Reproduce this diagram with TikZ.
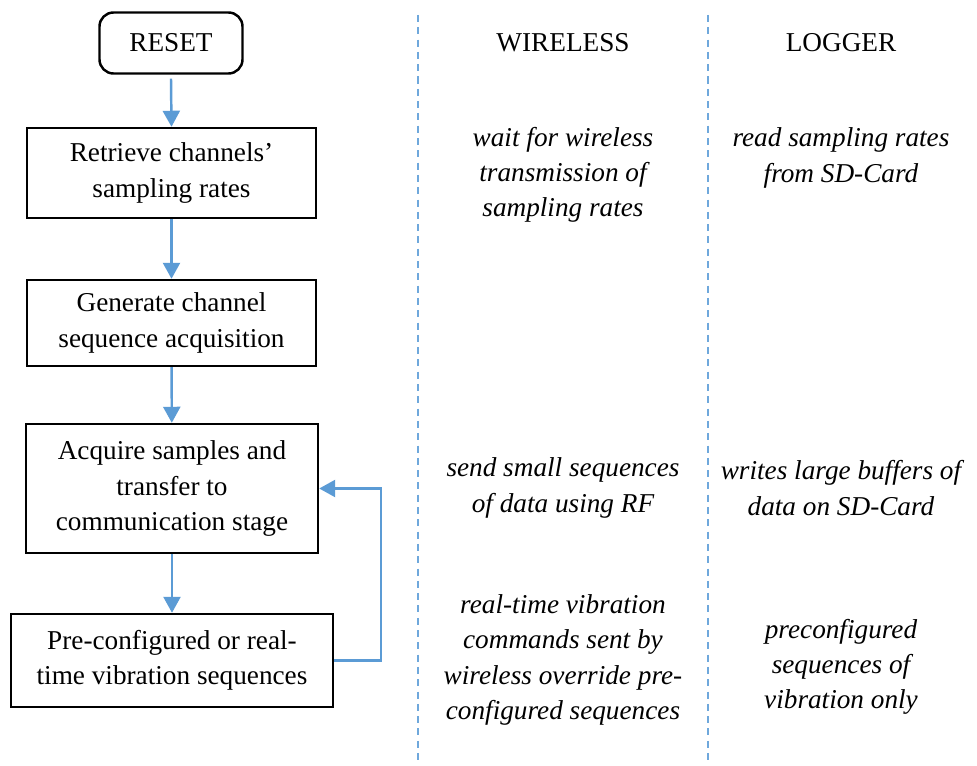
\documentclass[tikz,border=0pt]{standalone}
\usepackage{fontspec}
\setmainfont{Liberation Serif}
\usetikzlibrary{arrows.meta}
\definecolor{Flow}{HTML}{5B9BD5}
\definecolor{Lane}{HTML}{6FA8DC}

\begin{document}
\begin{tikzpicture}[every node/.style={font=\fontsize{15.5}{20}\selectfont,align=center},box/.style={draw=black,line width=1.4pt,inner sep=0pt},flow/.style={draw=Flow,line width=1.4pt,-{Triangle[length=0.32cm,width=0.34cm]}},lane/.style={draw=Lane,line width=0.6pt,dash pattern=on 4pt off 3pt},note/.style={font=\fontsize{15.5}{20}\selectfont\itshape}]
\fill[white] (0,0) rectangle (19.54,15.3);

% flow chart
\node[box,rounded corners=0.28cm,minimum width=2.86cm,minimum height=1.22cm] (reset) at (3.42,14.44) {RESET};
\node[box,minimum width=5.78cm,minimum height=1.8cm] (retr) at (3.43,11.84) {Retrieve channels'\\sampling rates};
\node[box,minimum width=5.78cm,minimum height=1.72cm] (gen) at (3.43,8.84) {Generate channel\\sequence acquisition};
\node[box,minimum width=5.84cm,minimum height=2.58cm] (acq) at (3.44,5.53) {Acquire samples and\\transfer to\\communication stage};
\node[box,minimum width=6.44cm,minimum height=1.86cm] (pre) at (3.44,2.09) {Pre-configured or real-\\time vibration sequences};
\coordinate (back) at (7.62,2.09);

\draw[flow] ([yshift=-0.08cm]reset.south)--(retr.north);\draw[flow] (retr)--(gen);\draw[flow] (gen)--(acq);\draw[flow] (acq)--(pre);
\draw[flow] (pre.east)--(back)|-(acq.east);

% lanes
\coordinate (l1t) at (8.36,15.0);\coordinate (l1b) at (8.36,0);\coordinate (l2t) at (14.16,15.0);\coordinate (l2b) at (14.16,0);
\draw[lane] (l1t)--(l1b);\draw[lane] (l2t)--(l2b);
\node (wlhead) at (11.26,14.44) {WIRELESS};\node (lghead) at (16.82,14.44) {LOGGER};
\node[note] (wl1) at (11.26,11.8) {wait for wireless\\transmission of\\sampling rates};
\node[note] (lg1) at (16.82,12.14) {read sampling rates\\from SD-Card};
\node[note] (wl2) at (11.26,5.54) {send small sequences\\of data using RF};
\node[note] (lg2) at (16.82,5.54) {writes large buffers of\\data on SD-Card};
\node[note] (wl3) at (11.26,2.1) {real-time vibration\\commands sent by\\wireless override pre-\\configured sequences};
\node[note] (lg3) at (16.82,1.96) {preconfigured\\sequences of\\vibration only};
\end{tikzpicture}
\end{document}
